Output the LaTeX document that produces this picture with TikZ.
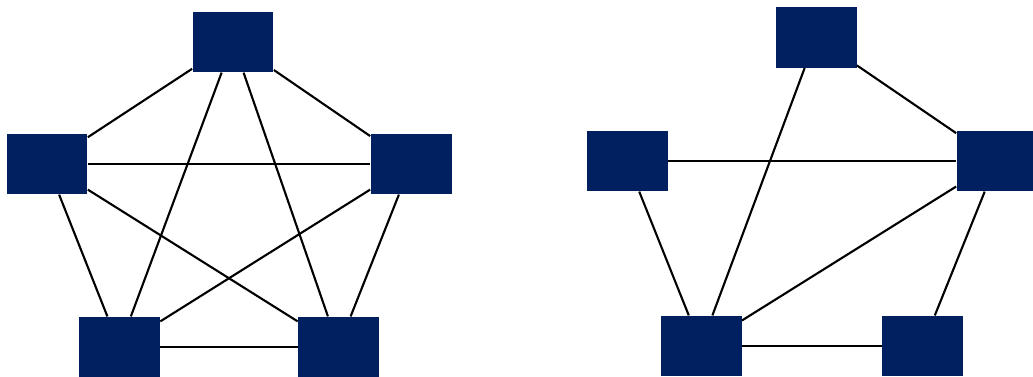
\documentclass[tikz,border=0pt]{standalone}
\definecolor{navy}{RGB}{0,32,96}
\begin{document}
\begin{tikzpicture}[x=0.02cm, y=-0.02cm,
  host/.style={fill=navy, minimum width=1.62cm, minimum height=1.21cm, inner sep=0pt},
  link/.style={line width=1.2pt, black}]
\useasboundingbox (0,0) rectangle (1033,376);
% full mesh
\node[host] (t1) at (233,42) {};
\node[host] (l1) at (47,164) {};
\node[host] (r1) at (411,164) {};
\node[host] (bl1) at (119.5,347) {};
\node[host] (br1) at (338.5,347) {};
\draw[link] (t1) -- (l1);
\draw[link] (t1) -- (r1);
\draw[link] (t1) -- (bl1);
\draw[link] (t1) -- (br1);
\draw[link] (l1) -- (r1);
\draw[link] (l1) -- (bl1);
\draw[link] (l1) -- (br1);
\draw[link] (r1) -- (bl1);
\draw[link] (r1) -- (br1);
\draw[link] (bl1) -- (br1);
% partial mesh
\node[host] (t2) at (816,37.5) {};
\node[host] (l2) at (627,161) {};
\node[host] (r2) at (997,161) {};
\node[host] (bl2) at (701,346) {};
\node[host] (br2) at (922.5,346) {};
\draw[link] (t2) -- (r2);
\draw[link] (t2) -- (bl2);
\draw[link] (l2) -- (r2);
\draw[link] (l2) -- (bl2);
\draw[link] (r2) -- (bl2);
\draw[link] (r2) -- (br2);
\draw[link] (bl2) -- (br2);
\end{tikzpicture}
\end{document}
